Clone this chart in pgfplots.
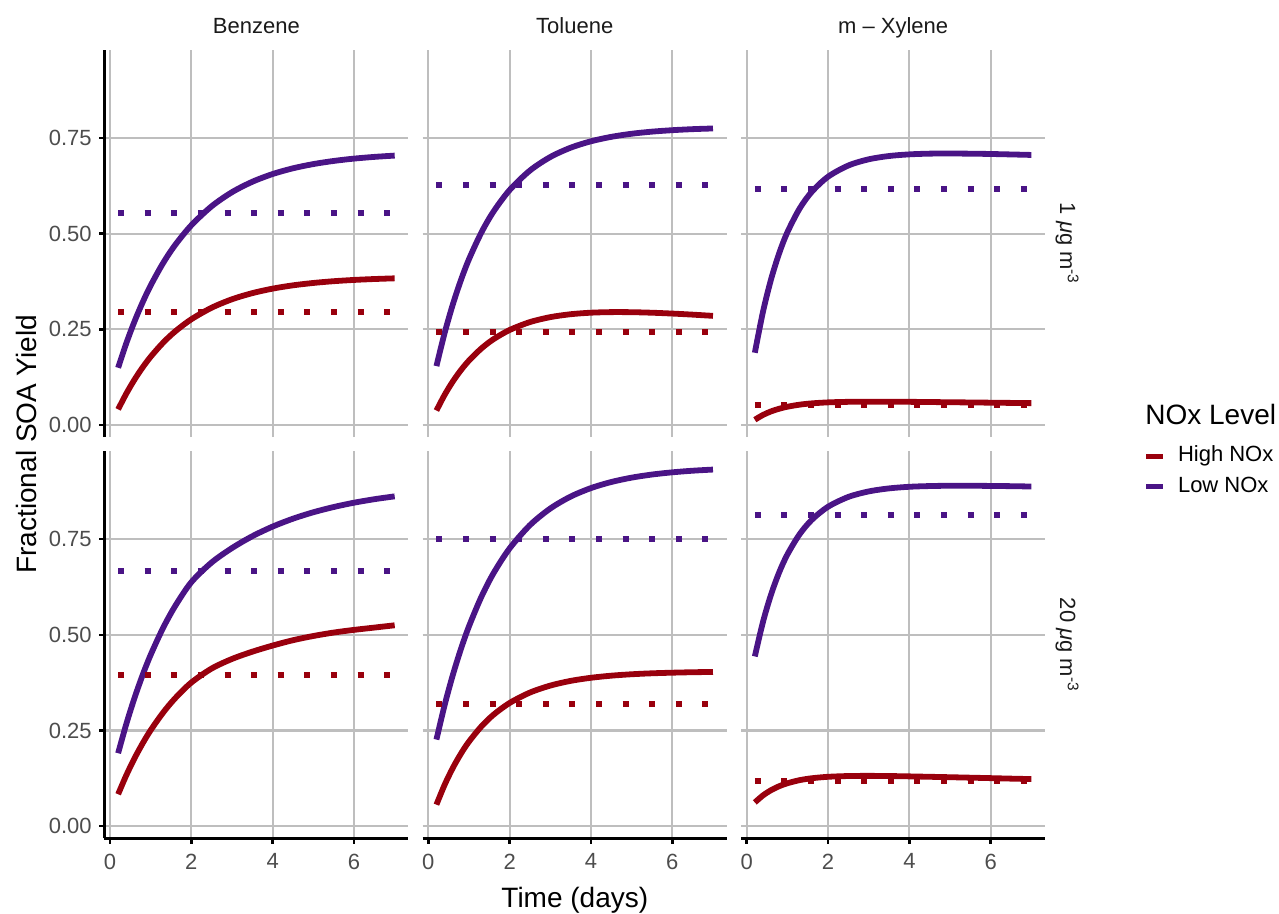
\documentclass[border=0pt]{standalone}
\usepackage{fontspec}
\setmainfont{Liberation Sans}
\usepackage{pgfplots}
\usepackage{pgfplotstable}
\pgfplotsset{compat=1.18}

\definecolor{hi}{HTML}{99000D}
\definecolor{lo}{HTML}{4A1486}
\definecolor{gridc}{RGB}{190,190,190}
\definecolor{tickc}{HTML}{4D4D4D}
\definecolor{stripc}{HTML}{1A1A1A}

% t = time (days), hi = High NOx, lo = Low NOx
\pgfplotstableread{
t    hi     lo
0.2  0.0407 0.1494
0.4  0.0817 0.2132
0.6  0.1180 0.2698
0.8  0.1500 0.3199
1.0  0.1782 0.3645
1.3  0.2143 0.4220
1.6  0.2442 0.4700
2.0  0.2762 0.5219
2.5  0.3064 0.5716
3.0  0.3285 0.6084
3.5  0.3445 0.6356
4.0  0.3563 0.6558
4.5  0.3649 0.6708
5.0  0.3711 0.6818
5.5  0.3757 0.6900
6.0  0.3790 0.6961
6.5  0.3814 0.7006
7.0  0.3832 0.7040
}\Bone
\pgfplotstableread{
t    hi     lo
0.2  0.0376 0.1538
0.4  0.0783 0.2397
0.6  0.1131 0.3139
0.8  0.1429 0.3779
1.0  0.1682 0.4331
1.3  0.1994 0.5019
1.6  0.2239 0.5571
2.0  0.2482 0.6140
2.5  0.2689 0.6650
3.0  0.2818 0.7003
3.5  0.2894 0.7246
4.0  0.2934 0.7414
4.5  0.2949 0.7530
5.0  0.2947 0.7611
5.5  0.2933 0.7666
6.0  0.2911 0.7704
6.5  0.2883 0.7731
7.0  0.2851 0.7749
}\Tone
\pgfplotstableread{
t    hi     lo
0.2  0.0136 0.1887
0.4  0.0261 0.2956
0.6  0.0355 0.3810
0.8  0.0424 0.4492
1.0  0.0476 0.5036
1.3  0.0530 0.5654
1.6  0.0564 0.6093
2.0  0.0590 0.6488
2.5  0.0604 0.6781
3.0  0.0608 0.6943
3.5  0.0607 0.7029
4.0  0.0604 0.7072
4.5  0.0599 0.7091
5.0  0.0593 0.7094
5.5  0.0588 0.7090
6.0  0.0582 0.7082
6.5  0.0576 0.7070
7.0  0.0570 0.7057
}\Xone
\pgfplotstableread{
t    hi     lo
0.2  0.0834 0.1906
0.4  0.1328 0.2666
0.6  0.1767 0.3342
0.8  0.2158 0.3943
1.0  0.2507 0.4477
1.3  0.2959 0.5169
1.6  0.3340 0.5748
2.0  0.3754 0.6377
2.5  0.4120 0.6892
3.0  0.4370 0.7269
3.5  0.4560 0.7578
4.0  0.4720 0.7830
4.5  0.4860 0.8036
5.0  0.4970 0.8204
5.5  0.5060 0.8341
6.0  0.5130 0.8454
6.5  0.5190 0.8545
7.0  0.5250 0.8620
}\Btwenty
\pgfplotstableread{
t    hi     lo
0.2  0.0562 0.2263
0.4  0.1077 0.3157
0.6  0.1516 0.3939
0.8  0.1890 0.4623
1.0  0.2209 0.5222
1.3  0.2600 0.5982
1.6  0.2909 0.6604
2.0  0.3220 0.7260
2.5  0.3492 0.7868
3.0  0.3674 0.8302
3.5  0.3797 0.8614
4.0  0.3878 0.8836
4.5  0.3933 0.8995
5.0  0.3970 0.9109
5.5  0.3995 0.9190
6.0  0.4011 0.9248
6.5  0.4023 0.9290
7.0  0.4030 0.9320
}\Ttwenty
\pgfplotstableread{
t    hi     lo
0.2  0.0620 0.4436
0.4  0.0803 0.5337
0.6  0.0941 0.6058
0.8  0.1044 0.6637
1.0  0.1121 0.7100
1.3  0.1202 0.7628
1.6  0.1252 0.8006
2.0  0.1290 0.8348
2.5  0.1310 0.8605
3.0  0.1314 0.8749
3.5  0.1310 0.8828
4.0  0.1301 0.8870
4.5  0.1290 0.8889
5.0  0.1279 0.8897
5.5  0.1267 0.8897
6.0  0.1255 0.8892
6.5  0.1242 0.8886
7.0  0.1230 0.8877
}\Xtwenty

\tikzset{spine/.style={black, line width=1.3pt}}
\pgfplotsset{
  facet/.style={
    anchor=south west, scale only axis,
    width=152.1pt, height=193.6pt,
    xmin=-0.14, xmax=7.34, ymin=-0.032, ymax=0.98,
    xtick={0,2,4,6}, ytick={0,0.25,0.5,0.75},
    xticklabels={}, yticklabels={},
    grid=major, major grid style={gridc, line width=1.1pt},
    axis line style={draw=none}, major tick length=0pt,
    tick label style={font=\fontsize{11}{13}\selectfont, color=tickc},
    /pgf/number format/assume math mode=true,
    clip=false,
  },
  lefty/.style={
    yticklabels={0.00,0.25,0.50,0.75},
    yticklabel style={xshift=-2.8pt},
    after end axis/.append code={
      \draw[spine] (rel axis cs:0,0) -- (rel axis cs:0,1);
      \foreach \v in {0,0.25,0.5,0.75}{\draw[spine] (axis cs:-0.14,\v) -- ++(-2.75pt,0);}
    },
  },
  bottomx/.style={
    xticklabels={0,2,4,6},
    xticklabel style={yshift=-4.1pt},
    after end axis/.append code={
      \draw[spine] (rel axis cs:0,0) -- (rel axis cs:1,0);
      \foreach \v in {0,2,4,6}{\draw[spine] (axis cs:\v,-0.032) -- ++(0,-2.75pt);}
    },
  },
  curve/.style={line width=2.9pt, smooth},
  dotline/.style={line width=3pt, dash pattern=on 3pt off 10.3pt, line cap=butt},
}

\begin{document}
\begin{tikzpicture}
\useasboundingbox (0,0) rectangle (639.5pt,457pt);

% ---- top row: 1 ug m-3 ----
\begin{axis}[facet, lefty, at={(52.15pt,238.4pt)}]
\addplot[hi, curve] table[x=t, y=hi] {\Bone};
\addplot[lo, curve] table[x=t, y=lo] {\Bone};
\addplot[hi, dotline] coordinates {(0.2,0.294) (7,0.294)};
\addplot[lo, dotline] coordinates {(0.2,0.553) (7,0.553)};
\end{axis}

\begin{axis}[facet, at={(211.3pt,238.4pt)}]
\addplot[hi, curve] table[x=t, y=hi] {\Tone};
\addplot[lo, curve] table[x=t, y=lo] {\Tone};
\addplot[hi, dotline] coordinates {(0.2,0.243) (7,0.243)};
\addplot[lo, dotline] coordinates {(0.2,0.627) (7,0.627)};
\end{axis}

\begin{axis}[facet, at={(370.5pt,238.4pt)},
    legend style={at={(axis description cs:1.3232,-0.022)}, anchor=north west,
      draw=none, fill=none, inner sep=0pt, outer sep=0pt,
      font=\fontsize{11}{13}\selectfont, row sep=5pt, cells={anchor=west},
      nodes={inner sep=0pt, text height=8pt, text depth=2.3pt},
      /tikz/every odd column/.append style={column sep=6.45pt}},
    legend image code/.code={\draw[#1] (0pt,0pt) -- (8.3pt,0pt);}]
\addlegendimage{hi, line width=2.5pt}
\addlegendentry{High NOx}
\addlegendimage{lo, line width=2.5pt}
\addlegendentry{Low NOx}
\addplot[hi, curve, forget plot] table[x=t, y=hi] {\Xone};
\addplot[lo, curve, forget plot] table[x=t, y=lo] {\Xone};
\addplot[hi, dotline, forget plot] coordinates {(0.2,0.053) (7,0.053)};
\addplot[lo, dotline, forget plot] coordinates {(0.2,0.617) (7,0.617)};
\end{axis}

% ---- bottom row: 20 ug m-3 ----
\begin{axis}[facet, lefty, bottomx, at={(52.15pt,37.8pt)}]
\addplot[hi, curve] table[x=t, y=hi] {\Btwenty};
\addplot[lo, curve] table[x=t, y=lo] {\Btwenty};
\addplot[hi, dotline] coordinates {(0.2,0.396) (7,0.396)};
\addplot[lo, dotline] coordinates {(0.2,0.667) (7,0.667)};
\end{axis}

\begin{axis}[facet, bottomx, at={(211.3pt,37.8pt)}]
\addplot[hi, curve] table[x=t, y=hi] {\Ttwenty};
\addplot[lo, curve] table[x=t, y=lo] {\Ttwenty};
\addplot[hi, dotline] coordinates {(0.2,0.318) (7,0.318)};
\addplot[lo, dotline] coordinates {(0.2,0.750) (7,0.750)};
\end{axis}

\begin{axis}[facet, bottomx, at={(370.5pt,37.8pt)}]
\addplot[hi, curve] table[x=t, y=hi] {\Xtwenty};
\addplot[lo, curve] table[x=t, y=lo] {\Xtwenty};
\addplot[hi, dotline] coordinates {(0.2,0.119) (7,0.119)};
\addplot[lo, dotline] coordinates {(0.2,0.812) (7,0.812)};
\end{axis}

% strips and titles
\begin{scope}[every node/.style={font=\fontsize{11}{13}\selectfont, text=stripc, inner sep=0pt}]
\node[anchor=base] at (128.2pt,440pt) {Benzene};
\node[anchor=base] at (287.35pt,440pt) {Toluene};
\node[anchor=base] at (446.55pt,440pt) {m – Xylene};
\node[rotate=-90, anchor=base] at (530pt,335.2pt) {1 \textit{μ}g m\textsuperscript{-3}};
\node[rotate=-90, anchor=base] at (530pt,134.6pt) {20 \textit{μ}g m\textsuperscript{-3}};
\end{scope}
\begin{scope}[every node/.style={font=\fontsize{14}{17}\selectfont, text=black, inner sep=0pt}]
\node[anchor=base] at (287.4pt,3.2pt) {Time (days)};
\node[rotate=90, anchor=base] at (18.25pt,234.9pt) {Fractional SOA Yield};
\node[anchor=base west] at (572.5pt,244.5pt) {NOx Level};
\end{scope}
\end{tikzpicture}
\end{document}
